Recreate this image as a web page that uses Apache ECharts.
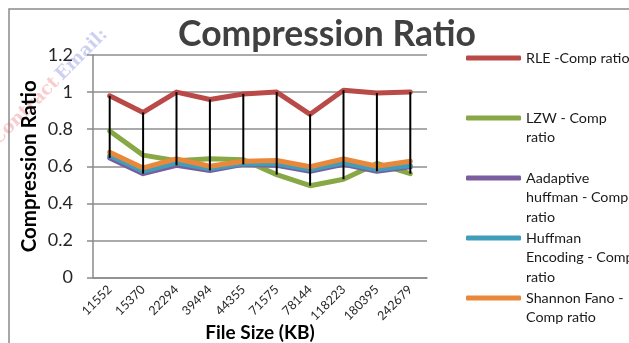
<!DOCTYPE html>
<html>
<head>
<meta charset="utf-8">
<script src="https://cdn.jsdelivr.net/npm/echarts@6/dist/echarts.min.js"></script>
<style>
  html, body { margin: 0; padding: 0; background: #fff; }
  #chart { width: 629px; height: 343px; }
</style>
</head>
<body>
<div id="chart"></div>
<script>
// File sizes (KB) along the x axis
const fileSizes = ['11552', '15370', '22294', '39494', '44355', '71575', '78144', '118223', '180395', '242679'];

// Compression ratio per algorithm
const rleRatio      = [0.98, 0.89, 1.0, 0.96, 0.99, 1.0, 0.88, 1.01, 0.995, 1.0];
const lzwRatio      = [0.79, 0.66, 0.63, 0.64, 0.635, 0.555, 0.495, 0.53, 0.615, 0.56];
const adaptiveRatio = [0.645, 0.56, 0.605, 0.577, 0.61, 0.605, 0.573, 0.61, 0.573, 0.597];
const huffmanRatio  = [0.658, 0.573, 0.618, 0.586, 0.615, 0.613, 0.582, 0.618, 0.582, 0.604];
const shannonRatio  = [0.676, 0.591, 0.64, 0.60, 0.627, 0.631, 0.597, 0.64, 0.60, 0.627];

// Y axis ticks
const yMin = 0, yMax = 1.2, yStep = 0.2;

const seriesDefs = [
  { name: 'RLE -Comp ratio',                label: 'RLE -Comp ratio',                 data: rleRatio,      color: '#B94A47', center: 58 },
  { name: 'LZW - Comp ratio',               label: 'LZW - Comp\nratio',               data: lzwRatio,      color: '#88A845', center: 118 },
  { name: 'Aadaptive huffman - Comp ratio', label: 'Aadaptive\nhuffman - Comp\nratio', data: adaptiveRatio, color: '#7A5D9F', center: 178 },
  { name: 'Huffman Encoding - Comp ratio',  label: 'Huffman\nEncoding - Comp\nratio', data: huffmanRatio,  color: '#409EBB', center: 238 },
  { name: 'Shannon Fano - Comp ratio',      label: 'Shannon Fano -\nComp ratio',      data: shannonRatio,  color: '#E9883B', center: 298 }
];

const FONT = 'Lato, "Open Sans", sans-serif';
const LH = 19.6;

// High-low lines: span from the lowest to the highest value at each file size
const highLow = fileSizes.map((_, i) => {
  const vals = seriesDefs.map(s => s.data[i]);
  return [i, Math.min.apply(null, vals), Math.max.apply(null, vals)];
});

const chart = echarts.init(document.getElementById('chart'), null, { renderer: 'canvas' });

// One legend per entry so that the first line of each wrapped label
// sits beside its line swatch (blank lines above balance the block).
const legends = seriesDefs.map(s => {
  const n = s.label.split('\n').length;
  return {
    data: [{ name: s.name, icon: 'roundRect' }],
    orient: 'vertical',
    left: 466,
    top: s.center - (2 * n - 1) * LH / 2,
    padding: 0,
    itemWidth: 55,
    itemHeight: 5,
    selectedMode: false,
    formatter: () => '\n'.repeat(n - 1) + s.label,
    textStyle: {
      fontFamily: FONT,
      fontSize: 14.3,
      color: '#1a1a1a',
      lineHeight: LH
    }
  };
});

const option = {
  animation: false,
  backgroundColor: '#fff',
  title: {
    text: 'Compression Ratio',
    left: 322,
    top: 12,
    textAlign: 'center',
    textStyle: { fontFamily: FONT, fontWeight: 'bold', fontSize: 35.5, color: '#404040' }
  },
  legend: legends,
  graphic: [
    {
      type: 'rect',
      shape: { x: 9, y: 9, width: 800, height: 600 },
      style: { fill: 'none', stroke: '#8a8a8a', lineWidth: 1.5 },
      silent: true,
      z: -1
    },
    {
      type: 'text',
      x: -12, y: 136,
      rotation: Math.PI / 4,
      silent: true,
      z: -1,
      style: {
        text: '{r|Contract} {b|Email:}',
        rich: {
          r: { fill: 'rgba(235,90,90,0.3)', fontFamily: '"DejaVu Serif", serif', fontSize: 18, fontWeight: 'bold' },
          b: { fill: 'rgba(90,100,210,0.3)', fontFamily: '"DejaVu Serif", serif', fontSize: 18, fontWeight: 'bold' }
        }
      }
    }
  ],
  grid: { left: 93, right: 202, top: 55, bottom: 65.5, containLabel: false, outerBoundsMode: 'none' },
  xAxis: {
    type: 'category',
    data: fileSizes,
    boundaryGap: true,
    name: 'File Size (KB)',
    nameLocation: 'middle',
    nameGap: 46,
    nameMoveOverlap: false,
    nameTextStyle: { fontFamily: FONT, fontWeight: 'bold', fontSize: 19, color: '#000' },
    axisLine: { lineStyle: { color: '#8a8a8a', width: 1.5 } },
    axisTick: { show: false },
    axisLabel: { rotate: 45, margin: 10, fontFamily: FONT, fontSize: 12.5, color: '#262626', interval: 0 },
    splitLine: { show: false }
  },
  yAxis: {
    type: 'value',
    min: yMin,
    max: yMax,
    interval: yStep,
    name: 'Compression Ratio',
    nameLocation: 'middle',
    nameGap: 53,
    nameMoveOverlap: false,
    nameTextStyle: { fontFamily: FONT, fontWeight: 'bold', fontSize: 20.5, color: '#000' },
    axisLine: { show: true, lineStyle: { color: '#8a8a8a', width: 1.5 } },
    axisTick: { show: true, inside: false, length: 6, lineStyle: { color: '#8a8a8a', width: 1.5 } },
    axisLabel: { margin: 20, fontFamily: FONT, fontSize: 18, color: '#262626' },
    splitLine: { lineStyle: { color: '#8e8e8e', width: 1.5 } }
  },
  series: seriesDefs.map(s => ({
    name: s.name,
    type: 'line',
    data: s.data,
    symbol: 'none',
    color: s.color,
    lineStyle: { width: 5, color: s.color, cap: 'round', join: 'round' }
  })).concat([{
    name: 'high-low',
    type: 'custom',
    data: highLow,
    z: 5,
    renderItem: (params, api) => {
      const lo = api.coord([api.value(0), api.value(1)]);
      const hi = api.coord([api.value(0), api.value(2)]);
      return {
        type: 'line',
        shape: { x1: lo[0], y1: lo[1], x2: hi[0], y2: hi[1] },
        style: { stroke: '#000', lineWidth: 2 }
      };
    }
  }])
};

chart.setOption(option);
</script>
</body>
</html>
